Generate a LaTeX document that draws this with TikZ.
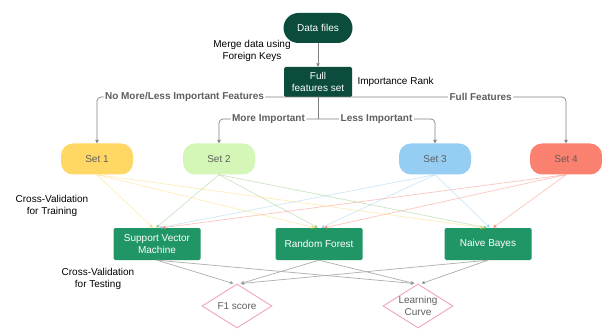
\documentclass[tikz,border=0pt]{standalone}
\usepackage{fontspec}
\setmainfont{Liberation Sans}
\usetikzlibrary{shapes.geometric,arrows.meta}
\definecolor{darkgr}{RGB}{12,76,60}
\definecolor{modelgr}{RGB}{32,150,102}
\definecolor{setone}{RGB}{255,215,100}
\definecolor{settwo}{RGB}{212,246,182}
\definecolor{setthree}{RGB}{150,205,242}
\definecolor{setfour}{RGB}{250,128,112}
\definecolor{diapink}{RGB}{240,165,185}
\definecolor{linegray}{RGB}{130,130,130}
\definecolor{txtgray}{RGB}{95,95,95}
\tikzset{
  darkpill/.style={fill=darkgr, text=white, rounded corners=15pt, minimum width=69pt, minimum height=30pt, inner sep=1pt},
  darkbox/.style={fill=darkgr, text=white, rounded corners=1.5pt, minimum width=68pt, minimum height=30pt, inner sep=1pt, align=center, font=\fontsize{10}{11.5}\selectfont},
  setbox/.style={fill=#1, text=txtgray, rounded corners=12pt, minimum width=72pt, minimum height=31pt},
  modelbox/.style={fill=modelgr, text=white, rounded corners=1.5pt, minimum width=87pt, minimum height=32pt, inner sep=1pt, align=center, font=\fontsize{10}{12}\selectfont},
  dia/.style={diamond, draw=diapink, line width=0.9pt, minimum width=70pt, minimum height=44pt, inner sep=0pt},
  dialbl/.style={text=txtgray, align=center, font=\fontsize{10}{12}\selectfont},
  lbl/.style={text=black, align=center, font=\fontsize{10}{12}\selectfont},
  brlbl/.style={fill=white, text=txtgray, inner sep=1.5pt, font=\fontsize{10}{12}\selectfont\bfseries},
  conn/.style={draw=linegray, line width=0.7pt, -{Triangle[length=3.5pt,width=3.5pt]}},
  setline/.style={draw=#1, draw opacity=0.45, line width=0.7pt, -{Triangle[length=3.5pt,width=3.5pt,fill=#1]}},
  grline/.style={draw=linegray!65, line width=0.7pt, -{Triangle[length=3.5pt,width=3.5pt,fill=darkgray]}},
}
\begin{document}
\begin{tikzpicture}[x=1pt,y=-1pt, font=\fontsize{10}{12}\selectfont]
\useasboundingbox[fill=white] (0,0) rectangle (602,331);

% top
\node[darkpill] (data) at (318,28) {Data files};
\node[darkbox] (full) at (318,82) {Full\\features set};
\node[lbl] (merge) at (252,51) {Merge data using\\Foreign Keys};
\node[lbl, anchor=west] (rank) at (354,82) {Importance Rank};
\draw[conn] (data) -- (full);

% sets
\node[setbox=setone] (s1) at (97,159) {Set 1};
\node[setbox=settwo] (s2) at (219,159) {Set 2};
\node[setbox=setthree] (s3) at (435,159) {Set 3};
\node[setbox=setfour] (s4) at (566,159) {Set 4};

% branches
\coordinate (hub) at (318,97);
\coordinate (mid) at (318,119);
\draw[conn, rounded corners=4pt] (hub) -| node[brlbl, pos=0.302] {No More/Less Important Features} (s1);
\draw[conn, rounded corners=4pt] (hub) -| node[brlbl, pos=0.328] {Full Features} (s4);
\draw[draw=linegray, line width=0.7pt] (hub) -- (mid);
\draw[conn, rounded corners=4pt] (mid) -| node[brlbl, pos=0.25] {More Important} (s2);
\draw[conn, rounded corners=4pt] (mid) -| node[brlbl, pos=0.25] {Less Important} (s3);

% models
\node[modelbox] (svm) at (157,244) {Support Vector\\Machine};
\node[modelbox] (rf) at (319,244) {Random Forest};
\node[modelbox] (nb) at (488,244) {Naive Bayes};

\node[lbl] (cvtrain) at (52,206) {Cross-Validation\\for Training};
\node[lbl] (cvtest) at (98,279) {Cross-Validation\\for Testing};

% set -> model lines
\foreach \m in {svm,rf,nb}{
  \draw[setline=setone] (s1.south) -- ([xshift=-4pt]\m.north);
  \draw[setline=settwo!85!green!80!black] (s2.south) -- ([xshift=-1pt]\m.north);
  \draw[setline=setthree] (s3.south) -- ([xshift=2pt]\m.north);
  \draw[setline=setfour] (s4.south) -- ([xshift=5pt]\m.north);
}

% diamonds
\node[dia] (f1) at (237,306) {};
\node[dialbl] (f1t) at (f1) {F1 score};
\node[dia] (lc) at (418,306) {};
\node[dialbl] (lct) at (lc) {Learning\\Curve};

\draw[grline] (svm.south) -- ([xshift=-3.5pt]f1.north);
\draw[grline] (rf.south) -- ([xshift=3.5pt]f1.north);
\draw[grline] (nb.south) -- ([xshift=3.5pt]f1.north);
\draw[grline] (svm.south) -- ([xshift=-3.5pt]lc.north);
\draw[grline] (rf.south) -- ([xshift=-3.5pt]lc.north);
\draw[grline] (nb.south) -- ([xshift=3.5pt]lc.north);
\end{tikzpicture}
\end{document}
